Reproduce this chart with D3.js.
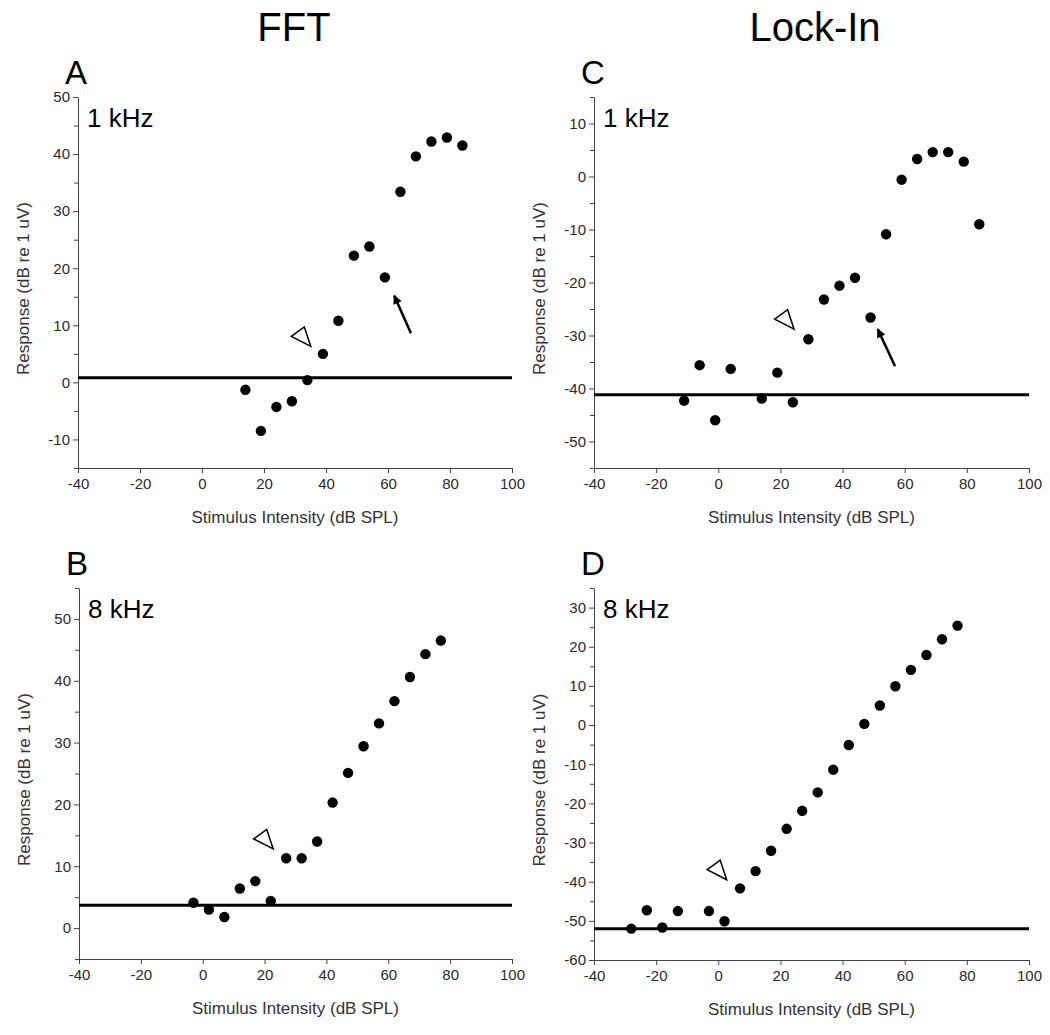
<!DOCTYPE html>
<html><head><meta charset="utf-8">
<script src="https://cdnjs.cloudflare.com/ajax/libs/d3/7.8.5/d3.min.js"></script>
<style>
html,body{margin:0;padding:0;background:#fff;}
svg{display:block;}
.tick text{font-family:"Liberation Sans",Arial,sans-serif;font-size:15px;fill:#2a2a2a;}
</style>
</head><body>
<svg id="chart" width="1050" height="1035"></svg>
<script>
// ---- data ----
const xTickValues = [-40, -20, 0, 20, 40, 60, 80, 100];
const columnTitles = ["FFT", "Lock-In"];

const A_x = [14, 19, 24, 29, 34, 39, 44, 49, 54, 59, 64, 69, 74, 79, 84];
const A_y = [-1.3, -8.5, -4.3, -3.3, 0.4, 5.0, 10.8, 22.2, 23.8, 18.4, 33.4, 39.6, 42.2, 42.9, 41.5];
const A_threshold = 0.8;
const A_yTicks = [-10, 0, 10, 20, 30, 40, 50];

const B_x = [-3, 2, 7, 12, 17, 22, 27, 32, 37, 42, 47, 52, 57, 62, 67, 72, 77];
const B_y = [4.1, 3.0, 1.8, 6.4, 7.6, 4.4, 11.3, 11.3, 14.0, 20.3, 25.1, 29.4, 33.1, 36.7, 40.6, 44.3, 46.5];
const B_threshold = 3.7;
const B_yTicks = [0, 10, 20, 30, 40, 50];

const C_x = [-11, -6, -1, 4, 14, 19, 24, 29, 34, 39, 44, 49, 54, 59, 64, 69, 74, 79, 84];
const C_y = [-42.3, -35.6, -46.0, -36.3, -41.9, -37.0, -42.6, -30.7, -23.2, -20.6, -19.1, -26.6, -10.9, -0.6, 3.3, 4.6, 4.6, 2.8, -9.0];
const C_threshold = -41.2;
const C_yTicks = [-50, -40, -30, -20, -10, 0, 10];

const D_x = [-28, -23, -18, -13, -3, 2, 7, 12, 17, 22, 27, 32, 37, 42, 47, 52, 57, 62, 67, 72, 77];
const D_y = [-52.0, -47.3, -51.7, -47.5, -47.5, -50.1, -41.7, -37.3, -32.1, -26.5, -21.9, -17.2, -11.4, -5.1, 0.3, 5.0, 9.9, 14.1, 17.9, 21.9, 25.4];
const D_threshold = -52.0;
const D_yTicks = [-60, -50, -40, -30, -20, -10, 0, 10, 20, 30];

// annotation anchors in data units: [x, y]
const A_triangle = [35.1, 6.3];
const A_arrow = [[67.4, 8.6], [62.0, 15.2]];
const B_triangle = [22.8, 12.8];
const C_triangle = [24.4, -28.8];
const C_arrow = [[56.9, -35.8], [51.3, -28.8]];
const D_triangle = [2.7, -39.5];

// ---- layout ----
const panels = [
  {letter: "A", freq: "1 kHz", xs: A_x, ys: A_y, thr: A_threshold, yTicks: A_yTicks, yDom: [-15, 50],
   tri: A_triangle, arrow: A_arrow, left: 78, right: 512, top: 97, bottom: 468},
  {letter: "C", freq: "1 kHz", xs: C_x, ys: C_y, thr: C_threshold, yTicks: C_yTicks, yDom: [-55, 15],
   tri: C_triangle, arrow: C_arrow, left: 594, right: 1029, top: 97, bottom: 468},
  {letter: "B", freq: "8 kHz", xs: B_x, ys: B_y, thr: B_threshold, yTicks: B_yTicks, yDom: [-5, 55],
   tri: B_triangle, arrow: null, left: 79, right: 512, top: 588, bottom: 959},
  {letter: "D", freq: "8 kHz", xs: D_x, ys: D_y, thr: D_threshold, yTicks: D_yTicks, yDom: [-60, 35],
   tri: D_triangle, arrow: null, left: 594, right: 1029, top: 588, bottom: 960}
];

const svg = d3.select("#chart");
const FONT = '"Liberation Sans",Arial,sans-serif';
const fmt = d => String(d);

// column titles
svg.append("text").attr("x", 294).attr("y", 41).attr("text-anchor", "middle")
  .attr("font-family", FONT).attr("font-size", 40).attr("fill", "#000").text(columnTitles[0]);
svg.append("text").attr("x", 815).attr("y", 41).attr("text-anchor", "middle")
  .attr("font-family", FONT).attr("font-size", 40).attr("fill", "#000").text(columnTitles[1]);

svg.append("defs").append("marker")
  .attr("id", "ah").attr("viewBox", "0 0 10 10").attr("refX", 9).attr("refY", 5)
  .attr("markerWidth", 5.5).attr("markerHeight", 3.6).attr("orient", "auto")
  .attr("markerUnits", "strokeWidth")
  .append("path").attr("d", "M0,0 L10,5 L0,10 Z").attr("fill", "#000");

panels.forEach(p => {
  const x = d3.scaleLinear().domain([-40, 100]).range([p.left, p.right]);
  const y = d3.scaleLinear().domain(p.yDom).range([p.bottom, p.top]);
  const g = svg.append("g");

  // minor y ticks every 5
  const minor = d3.range(p.yDom[0], p.yDom[1] + 0.01, 5).filter(v => !p.yTicks.includes(v));
  g.append("g").attr("transform", `translate(${p.left},0)`)
    .call(d3.axisLeft(y).tickValues(minor).tickSize(4).tickFormat(""))
    .call(s => s.select(".domain").remove())
    .call(s => s.selectAll("line").attr("stroke", "#444"));

  // y axis
  g.append("g").attr("transform", `translate(${p.left},0)`)
    .call(d3.axisLeft(y).tickValues(p.yTicks).tickFormat(fmt).tickSize(5).tickSizeOuter(0).tickPadding(3))
    .call(s => s.select(".domain").attr("stroke", "#444"))
    .call(s => s.selectAll("line").attr("stroke", "#444"));

  // x axis
  g.append("g").attr("transform", `translate(0,${p.bottom})`)
    .call(d3.axisBottom(x).tickValues(xTickValues).tickFormat(fmt).tickSize(5).tickSizeOuter(0).tickPadding(5))
    .call(s => s.select(".domain").attr("stroke", "#444"))
    .call(s => s.selectAll("line").attr("stroke", "#444"));

  // axis titles
  g.append("text").attr("x", (p.left + p.right) / 2).attr("y", p.bottom + 55)
    .attr("text-anchor", "middle").attr("font-family", FONT).attr("font-size", 17).attr("fill", "#333")
    .text("Stimulus Intensity (dB SPL)");
  g.append("text")
    .attr("transform", `translate(${p.left - 49},${(p.top + p.bottom) / 2 + 6}) rotate(-90)`)
    .attr("text-anchor", "middle").attr("font-family", FONT).attr("font-size", 17).attr("fill", "#333")
    .text("Response (dB re 1 uV)");

  // panel letter
  g.append("text").attr("x", p.left - 13).attr("y", p.top - 13)
    .attr("font-family", FONT).attr("font-size", 33).attr("fill", "#000").text(p.letter);
  // frequency label
  g.append("text").attr("x", p.left + 9).attr("y", p.top + 30)
    .attr("font-family", FONT).attr("font-size", 26).attr("fill", "#000").text(p.freq);

  // threshold line
  g.append("line").attr("x1", x(-40)).attr("x2", x(100)).attr("y1", y(p.thr)).attr("y2", y(p.thr))
    .attr("stroke", "#000").attr("stroke-width", 3);

  // data points
  g.selectAll("circle.pt").data(p.xs.map((v, i) => [v, p.ys[i]])).enter()
    .append("circle").attr("class", "pt")
    .attr("cx", d => x(d[0])).attr("cy", d => y(d[1])).attr("r", 5.2).attr("fill", "#000");

  // open triangle (threshold marker), apex at anchor pointing down-right
  const tx = x(p.tri[0]), ty = y(p.tri[1]);
  g.append("path")
    .attr("d", `M${tx},${ty} L${tx - 19.5},${ty - 10} L${tx - 6.5},${ty - 19.5} Z`)
    .attr("fill", "none").attr("stroke", "#000").attr("stroke-width", 1.5).attr("stroke-linejoin", "miter");

  // arrow
  if (p.arrow) {
    g.append("line")
      .attr("x1", x(p.arrow[0][0])).attr("y1", y(p.arrow[0][1]))
      .attr("x2", x(p.arrow[1][0])).attr("y2", y(p.arrow[1][1]))
      .attr("stroke", "#000").attr("stroke-width", 2.5).attr("marker-end", "url(#ah)");
  }
});
</script>
</body></html>
